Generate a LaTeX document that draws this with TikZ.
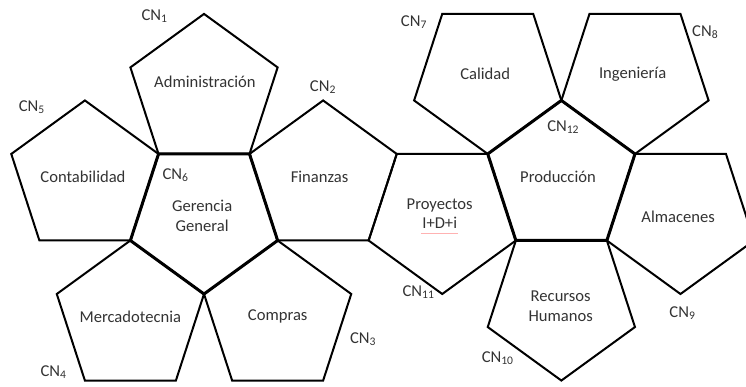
\documentclass[tikz,border=0pt]{standalone}
\usepackage{fontspec}
\setmainfont{Carlito}
\usepackage{tikz}
\usetikzlibrary{positioning}
\tikzset{%
  face/.style  = {draw, line width=1pt}, % outer pentagon
  core/.style  = {draw, line width=1.5pt}, % centre pentagon
  area/.style  = {text=black!80, font=\fontsize{8.3}{10}\selectfont, align=center, inner sep=0.5pt},
  tag/.style   = {text=black!80, font=\fontsize{8.3}{10}\selectfont, inner sep=0.5pt}
}
\newcommand{\cnode}[1]{CN\textsubscript{#1}}

\begin{document}
\begin{tikzpicture}[x=45.5pt, y=45.5pt]

  \clip (-1.742,-2.560) rectangle (6.456,1.692);

  % corners of the net
  \coordinate (A) at (0,0);
  \coordinate (B) at (1,0);
  \coordinate (C) at (1.309,-0.951);
  \coordinate (D) at (0.5,-1.539);
  \coordinate (E) at (-0.309,-0.951);
  \coordinate (F) at (2.618,0);
  \coordinate (G) at (2.309,-0.951);
  \coordinate (P) at (3.618,0);
  \coordinate (Q) at (3.927,-0.951);
  \coordinate (R) at (4.427,0.588);
  \coordinate (S) at (5.236,0);
  \coordinate (T) at (4.927,-0.951);

  % left half
  \draw[face] (A) -- (B) -- (1.309,0.951) -- (0.5,1.539) -- (-0.309,0.951) -- cycle;
  \draw[face] (E) -- (A) -- (-0.809,0.588) -- (-1.618,0) -- (-1.309,-0.951) -- cycle;
  \draw[face] (E) -- (D) -- (0.191,-2.490) -- (-0.809,-2.490) -- (-1.118,-1.539) -- cycle;
  \draw[face] (C) -- (2.118,-1.539) -- (1.809,-2.490) -- (0.809,-2.490) -- (D) -- cycle;
  \draw[face] (B) -- (1.809,0.588) -- (F) -- (G) -- (C) -- cycle;

  % right half
  \draw[face] (F) -- (P) -- (Q) -- (3.118,-1.539) -- (G) -- cycle;
  \draw[face] (P) -- (R) -- (4.118,1.539) -- (3.118,1.539) -- (2.809,0.588) -- cycle;
  \draw[face] (R) -- (S) -- (6.045,0.588) -- (5.736,1.539) -- (4.736,1.539) -- cycle;
  \draw[face] (S) -- (6.236,0) -- (6.545,-0.951) -- (5.736,-1.539) -- (T) -- cycle;
  \draw[face] (Q) -- (T) -- (5.236,-1.902) -- (4.427,-2.490) -- (3.618,-1.902) -- cycle;

  \draw[core] (A) -- (B) -- (C) -- (D) -- (E) -- cycle;
  \draw[core] (P) -- (R) -- (S) -- (T) -- (Q) -- cycle;

  % faces
  \draw node at (0.51,0.79) [area] (adm) {Administración};
  \draw node at (-0.83,-0.25) [area] (con) {Contabilidad};
  \draw node at (1.77,-0.25) [area] (fin) {Finanzas};
  \draw node at (0.48,-0.68) [area] (ger) {Gerencia\\General};
  \draw node at (-0.31,-1.79) [area] (mer) {Mercadotecnia};
  \draw node at (1.31,-1.79) [area] (com) {Compras};
  \draw node at (3.09,-0.57) [area] (pro) {Proyectos};
  \draw node [area, below=1pt of pro] (idi) {I+D+i};
  \draw node at (4.39,-0.25) [area] (prd) {Producción};
  \draw node at (3.59,0.88) [area] (cal) {Calidad};
  \draw node at (5.21,0.88) [area] (ing) {Ingeniería};
  \draw node at (5.71,-0.69) [area] (alm) {Almacenes};
  \draw node at (4.42,-1.67) [area] (rrh) {Recursos\\Humanos};
  \draw[red!30, line width=0.6pt] ([yshift=-1.5pt]idi.south west) -- ([yshift=-1.5pt]idi.south east);

  % node labels
  \draw node at (-0.04,1.51) [tag] (cn1) {\cnode{1}};
  \draw node at (1.81,0.73) [tag] (cn2) {\cnode{2}};
  \draw node at (2.25,-2.04) [tag] (cn3) {\cnode{3}};
  \draw node at (-1.15,-2.40) [tag] (cn4) {\cnode{4}};
  \draw node at (-1.39,0.51) [tag] (cn5) {\cnode{5}};
  \draw node at (0.19,-0.23) [tag] (cn6) {\cnode{6}};
  \draw node at (2.81,1.45) [tag] (cn7) {\cnode{7}};
  \draw node at (6.01,1.34) [tag] (cn8) {\cnode{8}};
  \draw node at (5.76,-1.75) [tag] (cn9) {\cnode{9}};
  \draw node at (3.73,-2.24) [tag] (cn10) {\cnode{10}};
  \draw node at (2.86,-1.52) [tag] (cn11) {\cnode{11}};
  \draw node at (4.45,0.30) [tag] (cn12) {\cnode{12}};

\end{tikzpicture}
\end{document}
